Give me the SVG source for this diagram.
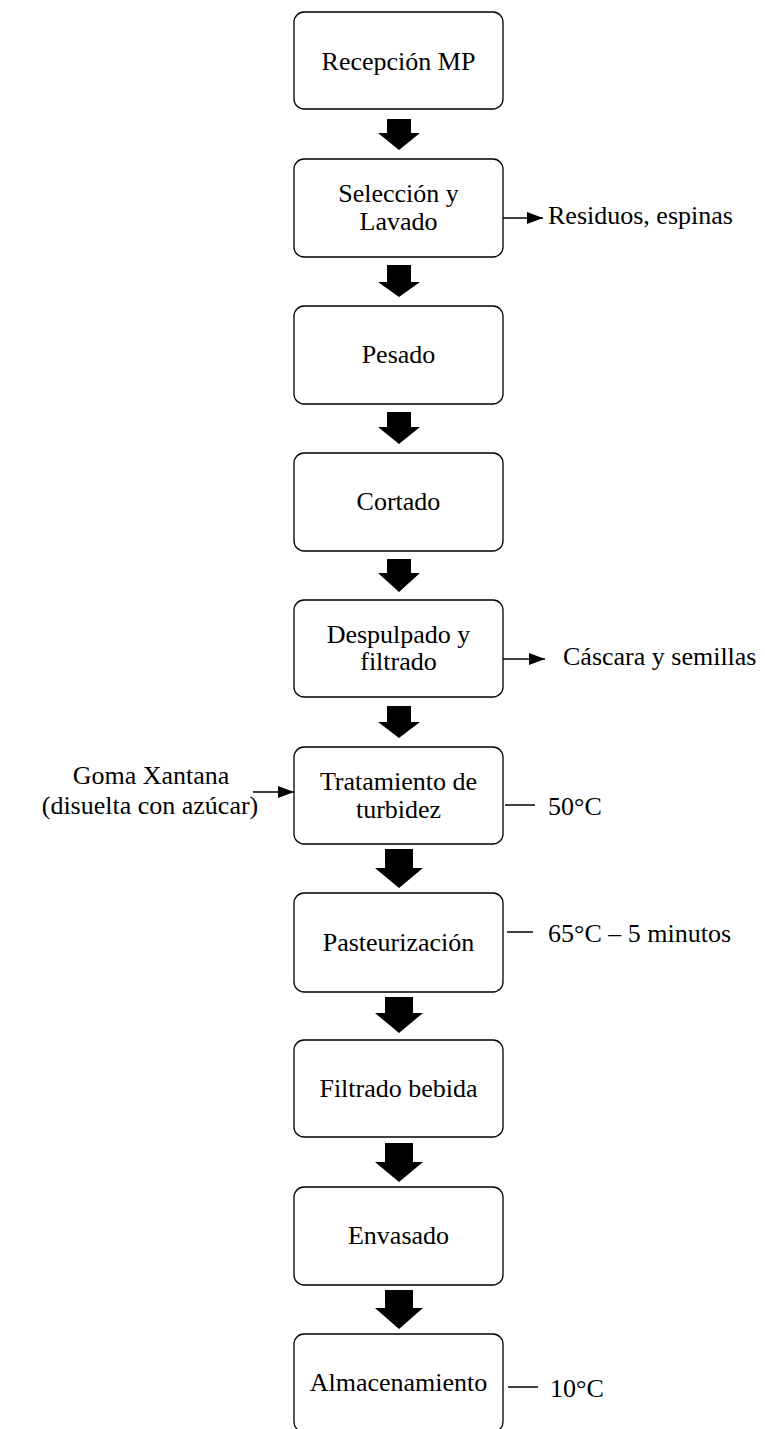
<svg xmlns="http://www.w3.org/2000/svg" width="765" height="1429" viewBox="0 0 765 1429">
<style>
.box{fill:#fff;stroke:#000;stroke-width:1.3}
.t{font-family:"Liberation Serif","Times New Roman",serif;font-size:26px;fill:#000}
.c{text-anchor:middle}
.ln{stroke:#000;stroke-width:1.5;fill:none}
.ar{fill:#000}
</style>
<defs>
<marker id="ah" markerWidth="16" markerHeight="12" refX="16" refY="6" orient="auto" markerUnits="userSpaceOnUse">
<path d="M0,0 L16,6 L0,12 Z" fill="#000"/>
</marker>
</defs>
<rect width="765" height="1429" fill="#fff"/>
<g id="n1"><rect class="box" x="294" y="12" width="209" height="97" rx="10"/><text class="t c" x="398.5" y="70">Recepción MP</text></g>
<g id="n2"><rect class="box" x="294" y="159" width="209" height="98" rx="10"/><text class="t c" x="398.5" y="202">Selección y</text><text class="t c" x="398.5" y="230">Lavado</text></g>
<g id="n3"><rect class="box" x="294" y="306" width="209" height="98" rx="10"/><text class="t c" x="398.5" y="363">Pesado</text></g>
<g id="n4"><rect class="box" x="294" y="453" width="209" height="98" rx="10"/><text class="t c" x="398.5" y="510">Cortado</text></g>
<g id="n5"><rect class="box" x="294" y="600" width="209" height="97" rx="10"/><text class="t c" x="398.5" y="643">Despulpado y</text><text class="t c" x="398.5" y="670">filtrado</text></g>
<g id="n6"><rect class="box" x="294" y="747" width="209" height="97" rx="10"/><text class="t c" x="398.5" y="790">Tratamiento de</text><text class="t c" x="398.5" y="818">turbidez</text></g>
<g id="n7"><rect class="box" x="294" y="893" width="209" height="99" rx="10"/><text class="t c" x="398.5" y="951">Pasteurización</text></g>
<g id="n8"><rect class="box" x="294" y="1040" width="209" height="97" rx="10"/><text class="t c" x="398.5" y="1097">Filtrado bebida</text></g>
<g id="n9"><rect class="box" x="294" y="1187" width="209" height="98" rx="10"/><text class="t c" x="398.5" y="1244">Envasado</text></g>
<g id="n10"><rect class="box" x="294" y="1334" width="209" height="98" rx="10"/><text class="t c" x="398.5" y="1391">Almacenamiento</text></g>
<g id="side-labels">
<text class="t" x="548" y="224">Residuos, espinas</text>
<text class="t" x="563" y="665">Cáscara y semillas</text>
<text class="t c" x="151" y="784">Goma Xantana</text>
<text class="t c" x="150" y="814">(disuelta con azúcar)</text>
<text class="t" x="548" y="815">50°C</text>
<text class="t" x="548" y="942">65°C – 5 minutos</text>
<text class="t" x="550" y="1397">10°C</text>
</g>
<g id="connectors">
<path class="ar" d="M387,119 H411 V133 H420 L399,150 L378,133 H387 Z"/>
<path class="ar" d="M387,265 H411 V282 H420 L399,297 L378,282 H387 Z"/>
<path class="ar" d="M387,412 H411 V427 H420 L399,444 L378,427 H387 Z"/>
<path class="ar" d="M387,559 H411 V573 H420 L399,592 L378,573 H387 Z"/>
<path class="ar" d="M387,706 H411 V722 H420 L399,738 L378,722 H387 Z"/>
<path class="ar" d="M385,849 H413 V868 H423 L399,888 L375,868 H385 Z"/>
<path class="ar" d="M385,997 H413 V1013 H423 L399,1033 L375,1013 H385 Z"/>
<path class="ar" d="M385,1143 H413 V1162 H423 L399,1182 L375,1162 H385 Z"/>
<path class="ar" d="M385,1290 H413 V1308 H423 L399,1329 L375,1308 H385 Z"/>
<line class="ln" x1="503" y1="218" x2="543" y2="218" marker-end="url(#ah)"/>
<line class="ln" x1="503" y1="659" x2="545" y2="659" marker-end="url(#ah)"/>
<line class="ln" x1="253" y1="792" x2="294" y2="792" marker-end="url(#ah)"/>
<line class="ln" x1="505" y1="805" x2="535" y2="805"/>
<line class="ln" x1="507" y1="932" x2="533" y2="932"/>
<line class="ln" x1="508" y1="1387" x2="538" y2="1387"/>
</g>
</svg>
